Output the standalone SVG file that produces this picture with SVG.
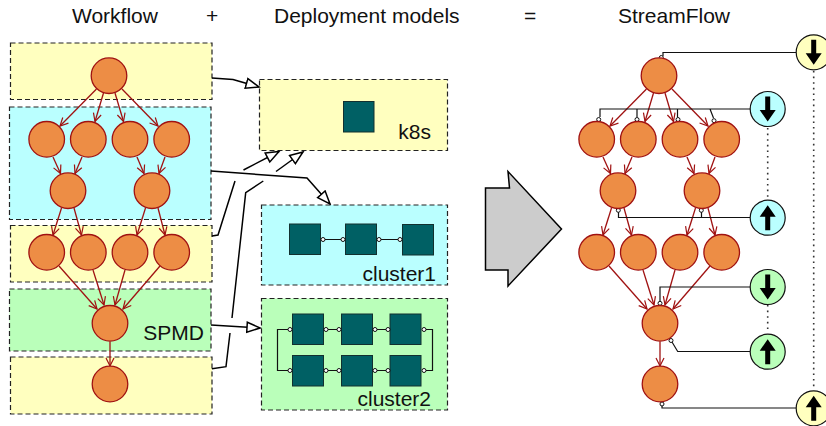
<svg xmlns="http://www.w3.org/2000/svg" width="826" height="426" viewBox="0 0 826 426">
<style>
text{font-family:"Liberation Sans",Arial,sans-serif;fill:#111}
.t{font-size:21px}
.l{font-size:21px;text-anchor:end}
.box{stroke:#222;stroke-width:1.2;stroke-dasharray:5 3}
.y{fill:#ffffbf}.c{fill:#baffff}.g{fill:#baffba}
.n{fill:#ed8d45;stroke:#a01212;stroke-width:1.3}
.s{fill:#006064;stroke:#12302f;stroke-width:1}
.e{fill:none;stroke:#a01212;stroke-width:1.3;marker-end:url(#open)}
.d{fill:none;stroke:#000;stroke-width:1.5}
.da{marker-end:url(#hollow)}
.w{fill:none;stroke:#111;stroke-width:1.2}
.p{fill:#fff;stroke:#111;stroke-width:1}
.dot{fill:none;stroke:#333;stroke-width:1.6;stroke-dasharray:1.6 4}
.io{stroke:#111;stroke-width:1.2}
</style>
<defs>
<marker id="open" markerUnits="userSpaceOnUse" markerWidth="12" markerHeight="12" refX="9" refY="5" orient="auto"><path d="M1,1 L9,5 L1,9" fill="none" stroke="#a01212" stroke-width="1.2"/></marker>
<marker id="hollow" markerUnits="userSpaceOnUse" markerWidth="16" markerHeight="14" refX="14" refY="6" orient="auto"><path d="M1,1 L14,6 L1,11 Z" fill="#fff" stroke="#000" stroke-width="1.5"/></marker>
<path id="down" d="M-2.500,-12.500 H2.500 V1 H8 L0,12.500 L-8,1 H-2.500 Z" fill="#000"/>
<path id="up" d="M-2.500,12.500 H2.500 V-1 H8 L0,-12.500 L-8,-1 H-2.500 Z" fill="#000"/>
</defs>

<g id="titles">
<text class="t" x="72" y="23">Workflow</text>
<text class="t" x="206" y="23">+</text>
<text class="t" x="274" y="23">Deployment models</text>
<text class="t" x="524" y="23">=</text>
<text class="t" x="618" y="23">StreamFlow</text>
</g>

<g id="bigarrow"><polygon points="485.500,188 509.500,188 508,171.500 561.500,229 508,286 508,270 485.500,270" fill="#cccccc" stroke="#000" stroke-width="1.5"/></g>

<g id="partitions">
<rect id="part1" class="box y" x="10.500" y="43" width="201.500" height="56.500"/>
<rect id="part2" class="box c" x="9.500" y="107" width="201.500" height="112.500"/>
<rect id="part3" class="box y" x="10.500" y="225.500" width="201.500" height="56.500"/>
<rect id="part4" class="box g" x="9.500" y="289" width="201.500" height="62"/>
<rect id="part5" class="box y" x="10.500" y="357" width="201.500" height="57"/>
<text id="spmd" class="l" x="204" y="340">SPMD</text>
</g>

<g id="models">
<g id="k8s"><rect class="box y" x="259.500" y="79.500" width="188" height="71"/><rect class="s" x="343.500" y="101.500" width="30.500" height="30.500"/><text class="l" x="431" y="139">k8s</text></g>
<g id="cluster1"><rect class="box c" x="261.500" y="205" width="186" height="80"/>
<rect class="s" x="289.500" y="224" width="31" height="30.500"/><rect class="s" x="345.500" y="224" width="31" height="30.500"/><rect class="s" x="402.500" y="224.500" width="31" height="30.500"/>
<path class="w" d="M323,239.500 H342.500 M379,239.500 H400"/>
<circle class="p" cx="323" cy="239.500" r="2"/><circle class="p" cx="343" cy="239.500" r="2"/><circle class="p" cx="379" cy="239.500" r="2"/><circle class="p" cx="400" cy="239.500" r="2"/>
<text class="l" x="436" y="281">cluster1</text></g>
<g id="cluster2"><rect class="box g" x="261.500" y="298.500" width="186" height="111.500"/>
<path class="w" d="M290,329.500 H277.500 V370.500 H290 M326,329.500 H339 M375,329.500 H388 M424,329.500 H432.500 V370.500 H424 M326,370.500 H339 M375,370.500 H388"/>
<rect class="s" x="292.500" y="314" width="31" height="30.500"/><rect class="s" x="341.500" y="314" width="31" height="30.500"/><rect class="s" x="390" y="314" width="31" height="30.500"/>
<rect class="s" x="292.500" y="355.500" width="31" height="30.500"/><rect class="s" x="341.500" y="355.500" width="31" height="30.500"/><rect class="s" x="390" y="355.500" width="31" height="30.500"/>
<g class="p"><circle cx="290" cy="329.500" r="2"/><circle cx="326" cy="329.500" r="2"/><circle cx="339" cy="329.500" r="2"/><circle cx="375" cy="329.500" r="2"/><circle cx="388" cy="329.500" r="2"/><circle cx="424" cy="329.500" r="2"/>
<circle cx="290" cy="370.500" r="2"/><circle cx="326" cy="370.500" r="2"/><circle cx="339" cy="370.500" r="2"/><circle cx="375" cy="370.500" r="2"/><circle cx="388" cy="370.500" r="2"/><circle cx="424" cy="370.500" r="2"/></g>
<text class="l" x="431" y="406">cluster2</text></g>
</g>

<g id="connectors">
<g id="deploy">
<path class="d da" d="M212,78 L233,79.500 L259,87"/>
<path class="d da" d="M211,171 L307,178 L330,204"/>
<path class="d" d="M212,236 L218,235 L235,181"/>
<path class="d da" d="M243.500,170 L279,151.500"/>
<path class="d" d="M212,368.700 L226,366.700 L230,333"/>
<path class="d" d="M232,318 L245.700,192.700 L263.300,181"/>
<path class="d da" d="M276,171.500 L303,152"/>
<path class="d da" d="M211,325 L260,328"/>
</g>
<g id="left-edges">
<path class="e" d="M96.500,89 L60,126"/><path class="e" d="M103.500,93 L95,121.500"/><path class="e" d="M115,93 L123.500,121.500"/><path class="e" d="M122,89 L158,126"/>
<path class="e" d="M53,157 L60.500,173.500"/><path class="e" d="M82,157 L75,173.500"/><path class="e" d="M137,157 L144,173.500"/><path class="e" d="M165,157 L159,173.500"/>
<path class="e" d="M61.500,208 L53,235"/><path class="e" d="M74,208 L81.500,235"/><path class="e" d="M145.500,208 L137,235"/><path class="e" d="M158,208 L165,235"/>
<path class="e" d="M59,266 L97,309"/><path class="e" d="M93,270 L104,305"/><path class="e" d="M125,270 L115,305"/><path class="e" d="M160,266 L123,309"/>
<path class="e" d="M110,341.500 V366"/>
</g>
<g id="right-edges">
<path class="e" d="M646.500,89 L610,126"/><path class="e" d="M653.500,93 L645,121.500"/><path class="e" d="M665,93 L673.500,121.500"/><path class="e" d="M672,89 L708,126"/>
<path class="e" d="M603,157 L610.500,173.500"/><path class="e" d="M632,157 L625,173.500"/><path class="e" d="M687,157 L694,173.500"/><path class="e" d="M715,157 L709,173.500"/>
<path class="e" d="M611.500,208 L603,235"/><path class="e" d="M624,208 L631.500,235"/><path class="e" d="M695.500,208 L687,235"/><path class="e" d="M708,208 L715,235"/>
<path class="e" d="M609,266 L647,309"/><path class="e" d="M643,270 L654,305"/><path class="e" d="M675,270 L665,305"/><path class="e" d="M710,266 L673,309"/>
<path class="e" d="M660,341.500 V366"/>
</g>
<g id="wires">
<path class="w" d="M663,56 V52.500 H796"/>
<path class="w" d="M750,109 H600 V117 M637,109 V117 M677.500,109 V117 M710,109 L713.500,118"/>
<path class="w" d="M750,217.500 H618.500 V212 M701.500,217.500 V212"/>
<path class="w" d="M750,287 H660 V301"/>
<path class="w" d="M750,351.500 H677.700 L672,342"/>
<path class="w" d="M796,408 H662 V404"/>
<path class="dot" d="M813.700,71 V388 M767.700,128 V199 M767.700,305 V333"/>
</g>
<g id="ports" class="p">
<circle cx="661.300" cy="57.500" r="2"/><circle cx="598.700" cy="119.500" r="2"/><circle cx="637" cy="119.500" r="2"/><circle cx="678" cy="119.500" r="2"/><circle cx="714" cy="120.700" r="2"/>
<circle cx="618.300" cy="210.300" r="2"/><circle cx="701.300" cy="210.300" r="2"/><circle cx="660" cy="303.300" r="2"/><circle cx="671" cy="340.500" r="2"/><circle cx="662" cy="404" r="2"/>
</g>
</g>

<g id="workflow-nodes">
<circle id="a1" class="n" cx="109" cy="75.700" r="17.800"/>
<circle id="a2" class="n" cx="46.700" cy="139.300" r="17.800"/><circle id="a3" class="n" cx="88.300" cy="139.300" r="17.800"/><circle id="a4" class="n" cx="130" cy="139.300" r="17.800"/><circle id="a5" class="n" cx="171.700" cy="139.300" r="17.800"/>
<circle id="a6" class="n" cx="68" cy="190.700" r="17.800"/><circle id="a7" class="n" cx="152" cy="190.700" r="17.800"/>
<circle id="a8" class="n" cx="46.700" cy="252.300" r="17.800"/><circle id="a9" class="n" cx="88.300" cy="252.300" r="17.800"/><circle id="a10" class="n" cx="130" cy="252.300" r="17.800"/><circle id="a11" class="n" cx="171.700" cy="252.300" r="17.800"/>
<circle id="a12" class="n" cx="110" cy="323.300" r="17.800"/><circle id="a13" class="n" cx="110" cy="384" r="17.800"/>
</g>
<g id="streamflow-nodes">
<circle id="b1" class="n" cx="659" cy="75.700" r="17.800"/>
<circle id="b2" class="n" cx="596.700" cy="139.300" r="17.800"/><circle id="b3" class="n" cx="638.300" cy="139.300" r="17.800"/><circle id="b4" class="n" cx="680" cy="139.300" r="17.800"/><circle id="b5" class="n" cx="721.700" cy="139.300" r="17.800"/>
<circle id="b6" class="n" cx="618" cy="190.700" r="17.800"/><circle id="b7" class="n" cx="702" cy="190.700" r="17.800"/>
<circle id="b8" class="n" cx="596.700" cy="252.300" r="17.800"/><circle id="b9" class="n" cx="638.300" cy="252.300" r="17.800"/><circle id="b10" class="n" cx="680" cy="252.300" r="17.800"/><circle id="b11" class="n" cx="721.700" cy="252.300" r="17.800"/>
<circle id="b12" class="n" cx="660" cy="323.300" r="17.800"/><circle id="b13" class="n" cx="660" cy="384" r="17.800"/>
</g>
<g id="io-yellow-in"><circle class="io y" cx="813.700" cy="52.300" r="17.500"/><use href="#down" x="813.700" y="52.300"/></g>
<g id="io-cyan-in"><circle class="io c" cx="767.700" cy="109" r="17.500"/><use href="#down" x="767.700" y="109"/></g>
<g id="io-cyan-out"><circle class="io c" cx="767.700" cy="217.700" r="17.500"/><use href="#up" x="767.700" y="217.700"/></g>
<g id="io-green-in"><circle class="io g" cx="767.700" cy="287" r="17.500"/><use href="#down" x="767.700" y="287"/></g>
<g id="io-green-out"><circle class="io g" cx="767.700" cy="351.700" r="17.500"/><use href="#up" x="767.700" y="351.700"/></g>
<g id="io-yellow-out"><circle class="io y" cx="813.700" cy="408.300" r="17.500"/><use href="#up" x="813.700" y="408.300"/></g>
</svg>
